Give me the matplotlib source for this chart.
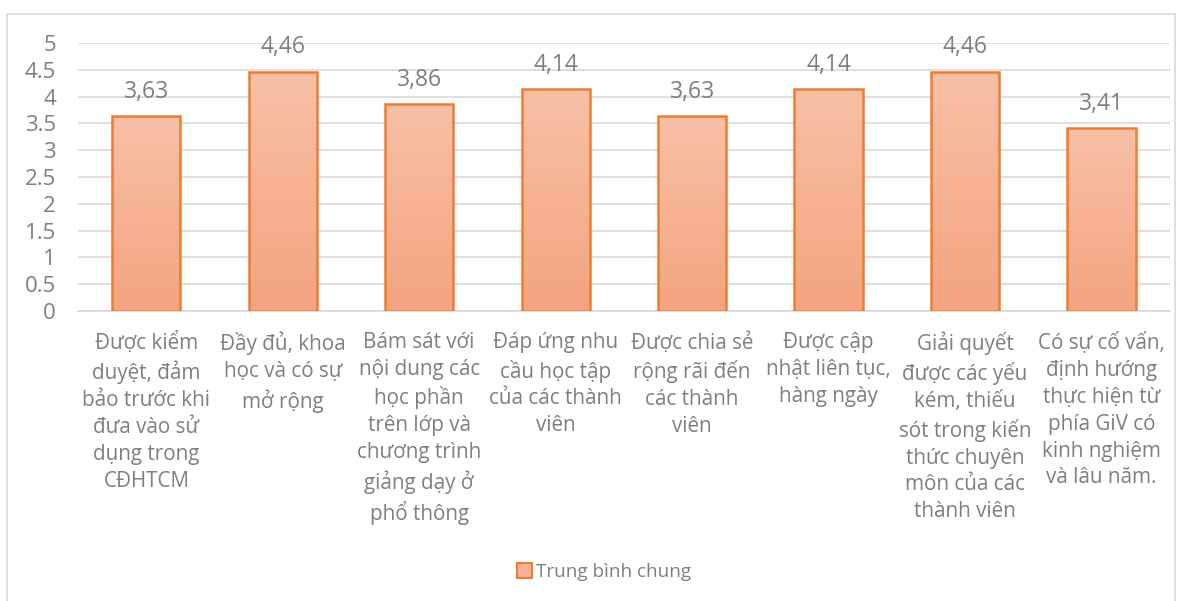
import matplotlib.pyplot as plt
import numpy as np
from matplotlib.colors import LinearSegmentedColormap
from matplotlib.patches import Rectangle

categories = [
    "Được kiểm\nduyệt, đảm\nbảo trước khi\nđưa vào sử\ndụng trong\nCĐHTCM",
    "Đầy đủ, khoa\nhọc và có sự\nmở rộng",
    "Bám sát với\nnội dung các\nhọc phần\ntrên lớp và\nchương trình\ngiảng dạy ở\nphổ thông",
    "Đáp ứng nhu\ncầu học tập\ncủa các thành\nviên",
    "Được chia sẻ\nrộng rãi đến\ncác thành\nviên",
    "Được cập\nnhật liên tục,\nhàng ngày",
    "Giải quyết\nđược các yếu\nkém, thiếu\nsót trong kiến\nthức chuyên\nmôn của các\nthành viên",
    "Có sự cố vấn,\nđịnh hướng\nthực hiện từ\nphía GiV có\nkinh nghiệm\nvà lâu năm.",
]
values = [3.63, 4.46, 3.86, 4.14, 3.63, 4.14, 4.46, 3.41]
series_name = "Trung bình chung"

plt.rcParams['font.family'] = ['Open Sans', 'DejaVu Sans']
grey = '#7f7f7f'
edge = '#ED7D31'

fig = plt.figure(figsize=(11.84, 6.01), dpi=100)
ax = fig.add_axes([0.0659, 0.4825, 0.922, 0.446])

# outer chart frame
fig.patches.append(Rectangle((7 / 1184, -0.1), 1168 / 1184, 1.1 - 14 / 601,
                             transform=fig.transFigure, fill=False,
                             edgecolor='#d9d9d9', linewidth=1.2))

x = np.arange(len(values))
bars = ax.bar(x, values, width=0.5, color='none', edgecolor=edge,
              linewidth=1.8, zorder=3, label=series_name)

cmap = LinearSegmentedColormap.from_list('g', ['#F4A480', '#F8C0A6'])
grad = np.linspace(0, 1, 256).reshape(-1, 1)
for b in bars:
    x0, y0 = b.get_x(), b.get_y()
    w, h = b.get_width(), b.get_height()
    im = ax.imshow(grad, cmap=cmap, aspect='auto', origin='lower',
                   extent=[x0, x0 + w, y0, y0 + h], zorder=2)
    im.set_clip_path(b)

for xi, v in zip(x, values):
    ax.annotate(f"{v:.2f}".replace('.', ','), (xi, v), xytext=(0, 9),
                textcoords='offset points', ha='center', va='bottom',
                fontsize=16.5, color=grey)

ax.set_xlim(-0.5, len(values) - 0.5)
ax.set_ylim(0, 5)
ax.set_yticks(np.arange(0, 5.01, 0.5))
ax.set_yticklabels(['0', '0.5', '1', '1.5', '2', '2.5', '3', '3.5', '4', '4.5', '5'])
ax.yaxis.grid(True, color='#d9d9d9', linewidth=1.2, zorder=0)
ax.set_axisbelow(True)
for s in ['top', 'right', 'left']:
    ax.spines[s].set_visible(False)
ax.spines['bottom'].set_color('#d9d9d9')
ax.spines['bottom'].set_linewidth(1.2)
ax.tick_params(axis='both', length=0, colors=grey)
ax.tick_params(axis='y', pad=16, labelsize=16)
ax.set_xticks(x)
ax.set_xticklabels(categories, fontsize=14.9, color=grey, linespacing=1.37,
                   va='top')
ax.tick_params(axis='x', pad=15)

handle = Rectangle((0, 0), 1, 1, facecolor='#F6B295', edgecolor=edge, linewidth=1.5)
fig.legend([handle], [series_name], loc='center', bbox_to_anchor=(0.51, 0.048),
           frameon=False, fontsize=13.6, labelcolor=grey, handlelength=0.8,
           handleheight=0.8, handletextpad=0.2)

fig.savefig('out.png', dpi=100)
